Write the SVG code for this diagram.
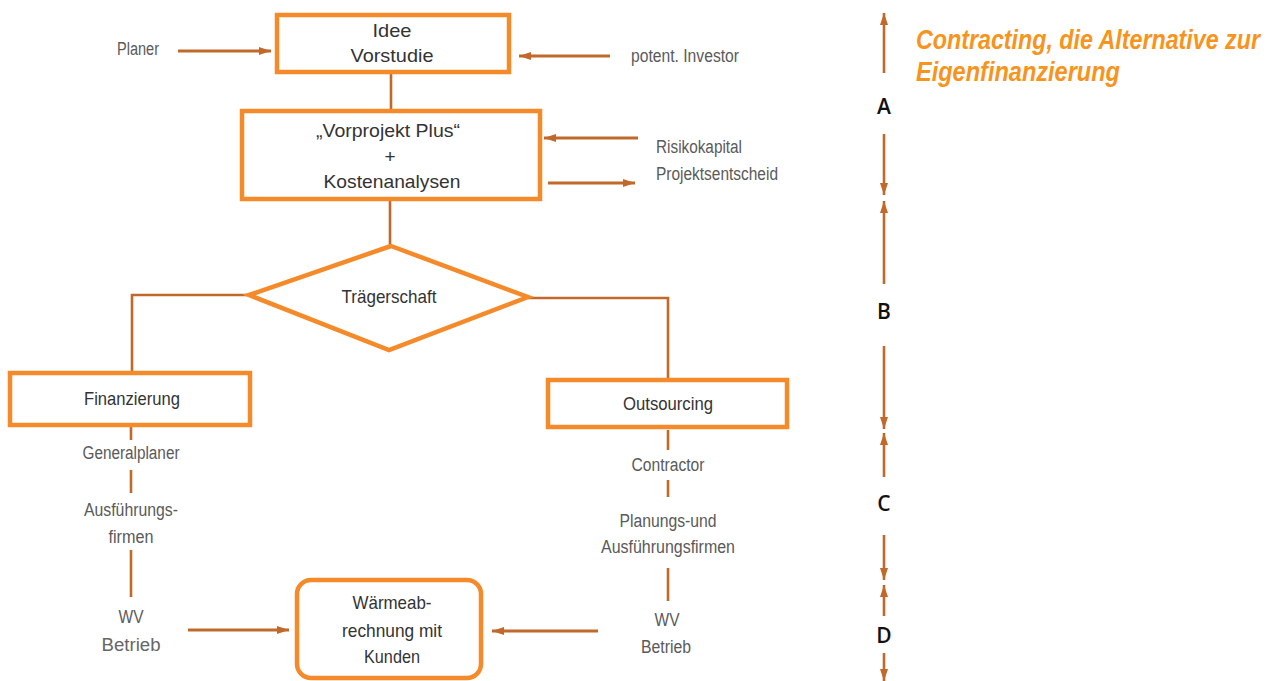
<svg xmlns="http://www.w3.org/2000/svg" width="1272" height="681" viewBox="0 0 1272 681">
  <defs>
    <marker id="ah" viewBox="0 0 12 8" refX="12" refY="4" markerWidth="12" markerHeight="8" orient="auto" markerUnits="userSpaceOnUse">
      <path d="M0,0 L12,4 L0,8 z" fill="#C0692A"/>
    </marker>
    <style>
      .box { fill: #fff; stroke: #F58A2A; stroke-width: 4.5; }
      .con { fill: none; stroke: #C0692A; stroke-width: 2.6; }
      .arr { fill: none; stroke: #C0692A; stroke-width: 3; marker-end: url(#ah); }
      .tl { fill: none; stroke: #C0692A; stroke-width: 2.6; marker-end: url(#ah); }
      text { font-family: "Liberation Sans", Arial, sans-serif; }
      .bt { font-size: 19px; fill: #333; text-anchor: middle; }
      .lb { font-size: 18px; fill: #5a5a5a; text-anchor: middle; }
      .lbl { font-size: 18px; fill: #5a5a5a; }
      .ph { font-family: "Open Sans", "DejaVu Sans", sans-serif; font-size: 21px; font-weight: 600; fill: #111; text-anchor: middle; }
      .title { font-size: 23px; font-weight: bold; font-style: italic; fill: #F7941D; }
    </style>
  </defs>

  <!-- connectors -->
  <g id="connectors">
    <line class="con" x1="391" y1="72" x2="391" y2="111"/>
    <line class="con" x1="390" y1="199" x2="390" y2="246"/>
    <polyline class="con" points="248,295 132,295 132,372"/>
    <polyline class="con" points="528,298 668,298 668,379"/>

    <line class="con" x1="131" y1="426" x2="131" y2="440"/>
    <line class="con" x1="131" y1="470" x2="131" y2="493"/>
    <line class="con" x1="131" y1="550" x2="131" y2="597"/>

    <line class="con" x1="668" y1="430" x2="668" y2="450"/>
    <line class="con" x1="668" y1="480" x2="668" y2="497"/>
    <line class="con" x1="668" y1="568" x2="668" y2="601"/>

    <line class="arr" x1="178" y1="51" x2="271" y2="51"/>
    <line class="arr" x1="610" y1="56" x2="519" y2="56"/>
    <line class="arr" x1="638" y1="138" x2="544" y2="138"/>
    <line class="arr" x1="548" y1="183" x2="635" y2="183"/>
    <line class="arr" x1="188" y1="630" x2="289" y2="630"/>
    <line class="arr" x1="598" y1="631" x2="492" y2="631"/>

    <!-- phase scale -->
    <line class="tl" x1="884" y1="73" x2="884" y2="13"/>
    <line class="tl" x1="884" y1="134" x2="884" y2="195"/>
    <line class="tl" x1="884" y1="284" x2="884" y2="201"/>
    <line class="tl" x1="884" y1="346" x2="884" y2="429"/>
    <line class="tl" x1="884" y1="477" x2="884" y2="433"/>
    <line class="tl" x1="884" y1="535" x2="884" y2="580"/>
    <line class="tl" x1="884" y1="616" x2="884" y2="585"/>
    <line class="tl" x1="884" y1="653" x2="884" y2="681"/>
  </g>

  <g id="idee">
    <rect class="box" x="277" y="15" width="232" height="57"/>
    <text class="bt" x="392" y="37" textLength="39" lengthAdjust="spacingAndGlyphs">Idee</text>
    <text class="bt" x="392" y="62" textLength="83" lengthAdjust="spacingAndGlyphs">Vorstudie</text>
  </g>

  <g id="vorprojekt">
    <rect class="box" x="242" y="111" width="298" height="88"/>
    <text class="bt" x="388" y="137" textLength="144" lengthAdjust="spacingAndGlyphs">„Vorprojekt Plus“</text>
    <text class="bt" x="390" y="163">+</text>
    <text class="bt" x="392" y="188" textLength="137" lengthAdjust="spacingAndGlyphs">Kostenanalysen</text>
  </g>

  <g id="traegerschaft">
    <polygon class="box" points="391,246 528,297 389,350 249,295"/>
    <text class="bt" x="389" y="303" textLength="95" lengthAdjust="spacingAndGlyphs">Trägerschaft</text>
  </g>

  <g id="finanzierung">
    <rect class="box" x="10" y="373" width="240" height="52"/>
    <text class="bt" x="132" y="405" textLength="96" lengthAdjust="spacingAndGlyphs">Finanzierung</text>
  </g>

  <g id="outsourcing">
    <rect class="box" x="548" y="380" width="239" height="47"/>
    <text class="bt" x="668" y="410" textLength="90" lengthAdjust="spacingAndGlyphs">Outsourcing</text>
  </g>

  <g id="waermeabrechnung">
    <rect class="box" x="297" y="580" width="184" height="98" rx="14"/>
    <text class="bt" x="392" y="609" textLength="79" lengthAdjust="spacingAndGlyphs">Wärmeab-</text>
    <text class="bt" x="392" y="637" textLength="100" lengthAdjust="spacingAndGlyphs">rechnung mit</text>
    <text class="bt" x="392" y="663" textLength="56" lengthAdjust="spacingAndGlyphs">Kunden</text>
  </g>

  <g id="labels">
    <text class="lbl" x="117" y="55" textLength="42" lengthAdjust="spacingAndGlyphs">Planer</text>
    <text class="lbl" x="631" y="62" textLength="108" lengthAdjust="spacingAndGlyphs">potent. Investor</text>
    <text class="lbl" x="656" y="153" textLength="86" lengthAdjust="spacingAndGlyphs">Risikokapital</text>
    <text class="lbl" x="656" y="180" textLength="122" lengthAdjust="spacingAndGlyphs">Projektsentscheid</text>

    <text class="lb" x="131" y="459" textLength="97" lengthAdjust="spacingAndGlyphs">Generalplaner</text>
    <text class="lb" x="131" y="516" textLength="94" lengthAdjust="spacingAndGlyphs">Ausführungs-</text>
    <text class="lb" x="131" y="543" textLength="45" lengthAdjust="spacingAndGlyphs">firmen</text>
    <text class="lb" x="131" y="623" textLength="25" lengthAdjust="spacingAndGlyphs">WV</text>
    <text class="lb" x="131" y="651" textLength="59" lengthAdjust="spacingAndGlyphs" style="fill:#666">Betrieb</text>

    <text class="lb" x="668" y="471" textLength="73" lengthAdjust="spacingAndGlyphs">Contractor</text>
    <text class="lb" x="668" y="527" textLength="97" lengthAdjust="spacingAndGlyphs">Planungs-und</text>
    <text class="lb" x="668" y="553" textLength="134" lengthAdjust="spacingAndGlyphs">Ausführungsfirmen</text>
    <text class="lb" x="667" y="626" textLength="25" lengthAdjust="spacingAndGlyphs">WV</text>
    <text class="lb" x="666" y="653" textLength="50" lengthAdjust="spacingAndGlyphs">Betrieb</text>
  </g>

  <g id="phases">
    <text class="ph" x="884" y="114">A</text>
    <text class="ph" x="884" y="319">B</text>
    <text class="ph" x="884" y="511">C</text>
    <text class="ph" x="884" y="643">D</text>
  </g>

  <!-- heading, stretched vertically to the tall condensed look -->
  <g id="title">
    <text class="title" transform="translate(916,49) scale(1,1.17)" x="0" y="0" textLength="344" lengthAdjust="spacingAndGlyphs">Contracting, die Alternative zur</text>
    <text class="title" transform="translate(916,81) scale(1,1.17)" x="0" y="0" textLength="204" lengthAdjust="spacingAndGlyphs">Eigenfinanzierung</text>
  </g>
</svg>
